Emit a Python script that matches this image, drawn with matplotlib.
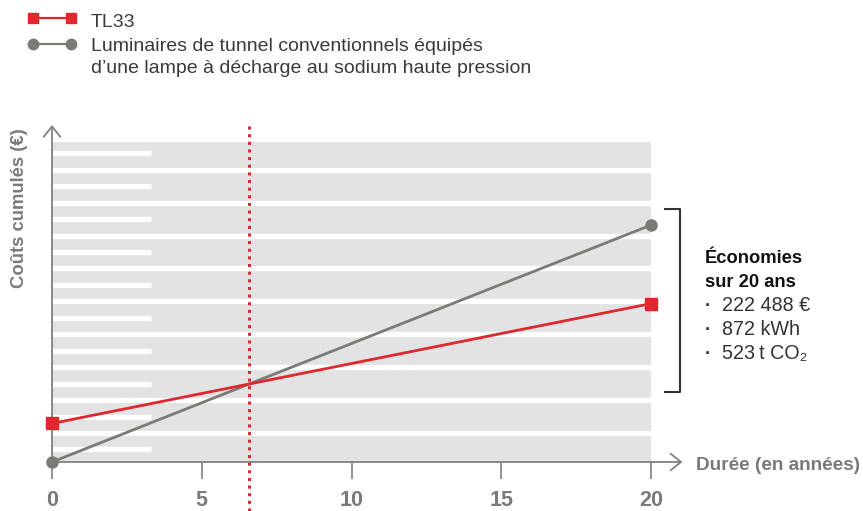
import numpy as np
import matplotlib
matplotlib.use("Agg")
import matplotlib.pyplot as plt
from matplotlib.lines import Line2D

plt.rcParams['font.family'] = ['Liberation Sans', 'DejaVu Sans']

# --- data (cumulative cost in k€) ---
years = [0, 20]
tl33_cost = [110, 452]
conv_cost = [0, 676]
x_ticks = [0, 5, 10, 15, 20]
tl33_label = "TL33"
conv_label = ["Luminaires de tunnel conventionnels équipés",
              "d’une lampe à décharge au sodium haute pression"]
savings_title = ["Économies", "sur 20 ans"]
savings_items = ["222 488 €", "872 kWh", "523\u2009t CO₂"]

RED = '#e2262d'
GREY_LINE = '#7a7a76'
AXIS = '#808080'
LABEL = '#7a7a7a'
BAND = '#e3e3e3'

W, H = 863, 511
fig = plt.figure(figsize=(W / 100, H / 100), dpi=100)

def fx(x):
    return x / W

def fy(y):
    return 1 - y / H

# axes: x=0..20 -> px 52..651, y=0..y_top -> px 462..142
y_top = 913
ax = fig.add_axes([fx(52), fy(462), (651 - 52) / W, (462 - 142) / H])
ax.set_xlim(0, 20)
ax.set_ylim(0, y_top)
ax.set_facecolor(BAND)
for s in ax.spines.values():
    s.set_visible(False)
ax.set_yticks([])
ax.set_xticks(x_ticks)
ax.set_xticklabels([str(t) for t in x_ticks])
ax.tick_params(axis='x', direction='out', length=12, width=1.2, color=AXIS,
               labelsize=15.5, labelcolor=LABEL, pad=8)
for lab in ax.get_xticklabels():
    lab.set_fontweight('bold')

# white stripes on the background
px_per_unit = y_top / 320
for k in range(9):
    yy = (462 - (169.7 + 32.9 * k)) * px_per_unit
    ax.axhline(yy, color='white', lw=3.8, zorder=1)
for k in range(10):
    yy = (462 - (153.3 + 32.9 * k)) * px_per_unit
    ax.plot([0, 3.3], [yy, yy], color='white', lw=3.8, solid_capstyle='butt', zorder=1)

# axis arrows
arrow = dict(arrowstyle='->,head_length=0.75,head_width=0.6', color=AXIS, lw=1.3,
             shrinkA=0, shrinkB=0, mutation_scale=10)
ax.annotate('', xy=(0, (462 - 125) * px_per_unit), xytext=(0, 0),
            arrowprops=arrow, annotation_clip=False, zorder=2)
ax.annotate('', xy=(21.05, 0), xytext=(0, 0),
            arrowprops=arrow, annotation_clip=False, zorder=2)

# break-even line
slope_t = (tl33_cost[1] - tl33_cost[0]) / (years[1] - years[0])
slope_c = (conv_cost[1] - conv_cost[0]) / (years[1] - years[0])
breakeven = (tl33_cost[0] - conv_cost[0]) / (slope_c - slope_t)
ax.plot([breakeven, breakeven], [-(511 - 462) * px_per_unit, (462 - 124) * px_per_unit],
        color=RED, lw=2.2, linestyle=(0, (1, 1.5)), dash_capstyle='butt',
        clip_on=False, zorder=2)

# series
ax.plot(years, conv_cost, color=GREY_LINE, lw=2, marker='o', ms=8,
        clip_on=False, zorder=4)
ax.plot(years, tl33_cost, color=RED, lw=2, marker='s', ms=8,
        clip_on=False, zorder=5)

# axis labels
fig.text(fx(20), fy(208), 'Coûts cumulés (€)', rotation=90, ha='center', va='center',
         fontweight='bold', fontsize=13.3, color=LABEL)
fig.text(fx(696), fy(466), 'Durée (en années)', ha='left', va='center',
         fontweight='bold', fontsize=13.7, color=LABEL)

# legend (drawn by hand so the handle sits on the first text line)
fig.add_artist(Line2D([fx(32.5), fx(71)], [fy(18), fy(18)], color=RED, lw=1.6,
                      marker='s', ms=7.5, markevery=[0, 1]))
fig.add_artist(Line2D([fx(32.5), fx(71)], [fy(44.5), fy(44.5)], color=GREY_LINE, lw=1.6,
                      marker='o', ms=7.5, markevery=[0, 1]))
fig.text(fx(91), fy(27.3), tl33_label, va='baseline', fontsize=14, color='#3a3a3a')
fig.text(fx(91), fy(50.7), conv_label[0], va='baseline', fontsize=14, color='#3a3a3a')
fig.text(fx(91), fy(72.7), conv_label[1], va='baseline', fontsize=14, color='#3a3a3a')

# savings bracket and text
fig.add_artist(Line2D([fx(665), fx(680), fx(680), fx(665)],
                      [fy(209), fy(209), fy(392), fy(392)], color='#333333', lw=1.5))
fig.text(fx(705), fy(263.3), savings_title[0], va='baseline', fontsize=13.2,
         fontweight='bold', color='#111111')
fig.text(fx(705), fy(286.7), savings_title[1], va='baseline', fontsize=13.2,
         fontweight='bold', color='#111111')
for i, item in enumerate(savings_items):
    base = 310.7 + 24.2 * i
    fig.text(fx(705), fy(base), '·', va='baseline', fontsize=13, fontweight='bold',
             color='#333333')
    fig.text(fx(722), fy(base), item, va='baseline', fontsize=14.2, color='#333333')

fig.savefig('out.png', dpi=100)
